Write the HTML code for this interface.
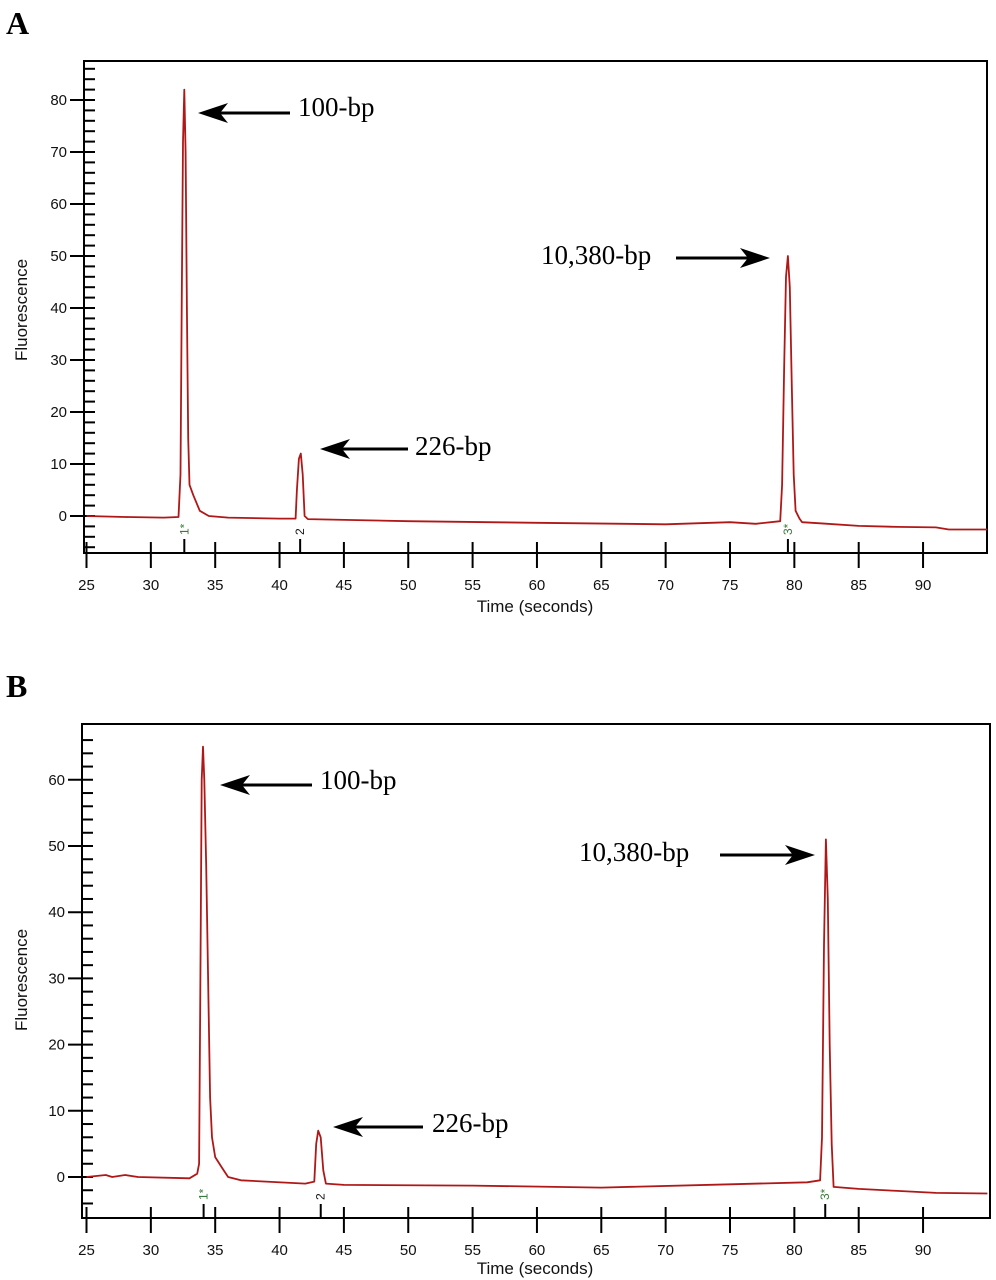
<!DOCTYPE html>
<html><head><meta charset="utf-8"><style>
html,body{margin:0;padding:0;background:#fff;}
svg{display:block;}
.tk{font-family:"Liberation Sans",sans-serif;font-size:15px;fill:#111;}
.ann{font-family:"Liberation Serif",serif;font-size:27px;fill:#000;}
</style></head><body>
<svg id="fig" width="996" height="1280" viewBox="0 0 996 1280" xmlns="http://www.w3.org/2000/svg">
<text x="6" y="34" font-family="Liberation Serif,serif" font-weight="bold" font-size="32">A</text>
<text x="6" y="697" font-family="Liberation Serif,serif" font-weight="bold" font-size="32">B</text>
<g id="pa"></g>
<g id="pb"></g>
</svg>
<script>
// Panel A data
const timeA=[25,28,31,32.15,32.3,32.4,32.5,32.6,32.7,32.8,32.9,33.0,33.3,33.8,34.5,36,40,41.25,41.35,41.5,41.65,41.8,41.95,42.2,50,60,70,75,77,78.9,79.05,79.2,79.35,79.5,79.65,79.8,79.95,80.1,80.4,80.6,82,85,88,91,92,95];
const fluorA=[0,-0.2,-0.3,-0.2,8,40,72,82,70,40,15,6,4,1,0,-0.3,-0.5,-0.5,5,11,12,8,0,-0.6,-1,-1.3,-1.6,-1.2,-1.5,-1,6,28,46,50,44,25,8,1,-0.5,-1.2,-1.4,-1.9,-2.1,-2.2,-2.6,-2.6];
const peakTimesA=[32.6,41.6,79.5];
const peakLabelsA=["1*","2","3*"];
const yTicksA=[0,10,20,30,40,50,60,70,80];
// Panel B data
const timeB=[25,26.5,27,28,29,33,33.6,33.75,33.85,33.95,34.05,34.15,34.3,34.45,34.6,34.75,35,35.5,36,37,42,42.7,42.85,43,43.2,43.4,43.6,45,55,65,75,81,82,82.15,82.3,82.45,82.6,82.75,82.9,83.05,85,88,91,95];
const fluorB=[0,0.3,0,0.3,0,-0.2,0.5,2,30,60,65,60,47,30,12,6,3,1.5,0,-0.5,-1,-0.7,5,7,6,1,-1,-1.2,-1.3,-1.6,-1.1,-0.8,-0.5,6,35,51,42,20,5,-1.5,-1.8,-2.1,-2.4,-2.5];
const peakTimesB=[34.1,43.2,82.4];
const peakLabelsB=["1*","2","3*"];
const yTicksB=[0,10,20,30,40,50,60];
const xTicks=[25,30,35,40,45,50,55,60,65,70,75,80,85,90];
const annA=[{t:"100-bp",tx:298,ty:116,x1:290,x2:198,y:113},{t:"226-bp",tx:415,ty:455,x1:408,x2:320,y:449},{t:"10,380-bp",tx:541,ty:264,x1:676,x2:770,y:258}];
const annB=[{t:"100-bp",tx:320,ty:789,x1:312,x2:220,y:785},{t:"226-bp",tx:432,ty:1132,x1:423,x2:333,y:1127},{t:"10,380-bp",tx:579,ty:861,x1:720,x2:815,y:855}];

const NS="http://www.w3.org/2000/svg";
function mk(p,tag,a){const e=document.createElementNS(NS,tag);for(const k in a)e.setAttribute(k,a[k]);p.appendChild(e);return e;}

function panel(g,cfg){
  const {L,R,T,B,y0,pxu,yMin,yMax,time,fl,pk,pl,yt,ann,titleY,fluorY}=cfg;
  const xs=t=>86.5+(t-25)*12.87;
  const ys=v=>y0-v*pxu;
  const fr=mk(g,'rect',{x:L,y:T,width:R-L,height:B-T,fill:'none',stroke:'#000','stroke-width':2});
  
  
  for(let v=Math.ceil(yMin/2)*2; v<=yMax; v+=2){
    const y=ys(v); if(y<T+3||y>B-3) continue;
    const major=(v%10===0);
    const tk=mk(g,'line',{x1:major?L-14:L,x2:L+11,y1:y,y2:y,stroke:'#000','stroke-width':2});
    
    
  }
  yt.forEach(v=>{
    const t=mk(g,'text',{x:L-17,y:ys(v)+5,'text-anchor':'end',class:'tk'});
    
    
    t.textContent=v;
  });
  xTicks.forEach(v=>{
    const x=xs(v);
    const tk=mk(g,'line',{x1:x,x2:x,y1:B-11,y2:B+15,stroke:'#000','stroke-width':2});
    
    
    const t=mk(g,'text',{x:x,y:B+37,'text-anchor':'middle',class:'tk'});
    
    
    t.textContent=v;
  });
  pk.forEach((v,i)=>{
    const x=xs(v);
    const m=mk(g,'line',{x1:x,x2:x,y1:B-14,y2:B,stroke:'#000','stroke-width':2});
    
    
    const t=mk(g,'text',{x:0,y:0,transform:`translate(${x+4},${B-18}) rotate(-90)`,'font-family':'Liberation Sans,sans-serif','font-size':12,fill:i===1?'#111':'#3a7a3a'});
    
    
    t.textContent=pl[i];
  });
  const d=time.map((t,i)=>(i?'L':'M')+xs(t).toFixed(1)+','+ys(fl[i]).toFixed(1)).join(' ');
  const p=mk(g,'path',{d:d,fill:'none',stroke:'#b01818','stroke-width':1.8,'stroke-linejoin':'round'});
  
  
  const xt=mk(g,'text',{x:535,y:titleY,'text-anchor':'middle','font-family':'Liberation Sans,sans-serif','font-size':17,fill:'#111'});
  
  
  xt.textContent='Time (seconds)';
  const yl=mk(g,'text',{x:0,y:0,transform:`translate(27,${fluorY}) rotate(-90)`,'text-anchor':'middle','font-family':'Liberation Sans,sans-serif','font-size':17,fill:'#111'});
  
  
  yl.textContent='Fluorescence';
  ann.forEach(a=>{
    const t=mk(g,'text',{x:a.tx,y:a.ty,class:'ann'});
    
    
    t.textContent=a.t;
    const dir=a.x2>a.x1?1:-1, hx=a.x2-dir*26;
    const ln=mk(g,'line',{x1:a.x1,x2:hx+dir*6,y1:a.y,y2:a.y,stroke:'#000','stroke-width':3});
    
    
    const hd=mk(g,'path',{d:`M${a.x2},${a.y} L${hx-dir*4},${a.y-10} L${hx+dir*4},${a.y} L${hx-dir*4},${a.y+10} Z`,fill:'#000'});
    
    
  });
}
panel(document.getElementById('pa'),{L:84,R:987,T:61,B:553,y0:516,pxu:5.2,yMin:-6,yMax:86,time:timeA,fl:fluorA,pk:peakTimesA,pl:peakLabelsA,yt:yTicksA,ann:annA,titleY:612,fluorY:310});
panel(document.getElementById('pb'),{L:82,R:990,T:724,B:1218,y0:1177,pxu:6.62,yMin:-6,yMax:68,time:timeB,fl:fluorB,pk:peakTimesB,pl:peakLabelsB,yt:yTicksB,ann:annB,titleY:1274,fluorY:980});
</script>
</body></html>
